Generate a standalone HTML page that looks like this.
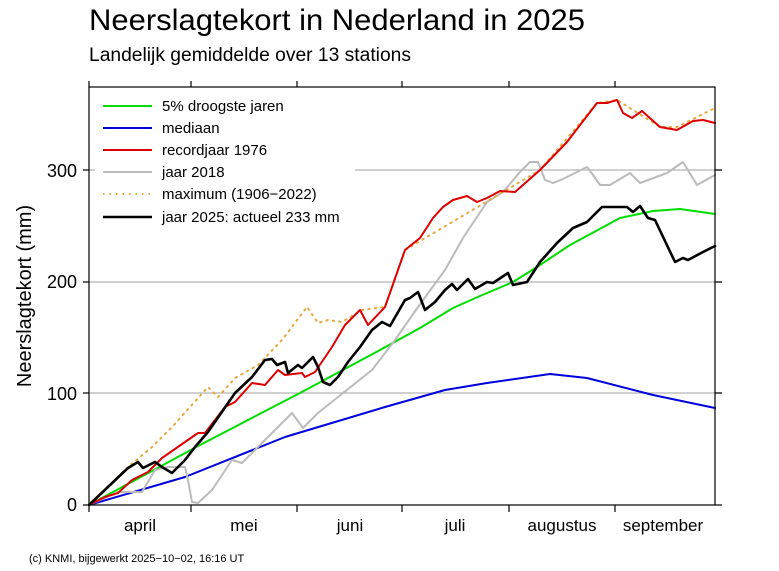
<!DOCTYPE html>
<html><head><meta charset="utf-8"><style>
html,body{margin:0;padding:0;background:#fff}
svg{display:block;font-family:"Liberation Sans",Arial,sans-serif}
</style></head><body>
<svg width="779" height="571" viewBox="0 0 779 571" xmlns="http://www.w3.org/2000/svg">
<text x="89" y="30" font-size="30" textLength="496" lengthAdjust="spacingAndGlyphs">Neerslagtekort in Nederland in 2025</text>
<text x="89" y="61" font-size="19" textLength="322" lengthAdjust="spacingAndGlyphs">Landelijk gemiddelde over 13 stations</text>
<!-- grid -->
<g stroke="#b4b4b4" stroke-width="1.2">
<line x1="89" y1="393" x2="722" y2="393"/>
<line x1="89" y1="282" x2="722" y2="282"/>
<line x1="89" y1="170" x2="722" y2="170"/>
</g>
<!-- legend bg -->
<rect x="95" y="90" width="260" height="145" fill="#fff"/>
<!-- series -->
<g fill="none" stroke-linejoin="round" stroke-linecap="round">
<polyline stroke="#0000dd" stroke-width="2" points="89,505 185,477 285,437 385,407 445,390 487,383 550,374 587,378 653,395 715,408"/>
<polyline stroke="#00dd00" stroke-width="2" points="89,505 200,445 300,393 380,350 420,328 453,308 480,296 513,282 537,267 570,245 620,218 653,211 680,209 715,214"/>
<polyline stroke="#bbbbbb" stroke-width="2" points="89,505 118,492 142,492 155,470 168,467 185,467 188,480 192,502 198,503 212,490 232,460 242,463 262,443 292,413 303,428 318,413 338,397 372,370 395,340 418,307 445,270 463,238 487,202 503,192 520,172 530,162 538,162 545,180 553,183 563,179 587,167 593,175 600,185 610,185 630,173 640,183 667,173 683,162 697,185 715,175"/>
<polyline stroke="#e8a840" stroke-width="2" stroke-dasharray="1.5,5" points="89,505 128,467 152,447 172,427 208,387 218,397 235,378 258,365 282,340 307,307 318,323 328,320 342,322 362,310 385,307 405,250 540,170 597,103 617,100 660,127 677,127 715,108"/>
<polyline stroke="#dd0000" stroke-width="2" points="89,505 105,497 118,493 132,480 148,472 162,458 185,442 198,433 205,433 225,407 235,402 252,383 265,385 278,370 285,375 302,373 305,377 315,372 332,347 345,325 360,310 368,325 385,307 405,250 420,238 433,218 443,207 453,200 467,196 477,202 487,198 500,191 515,192 540,170 567,142 597,103 607,103 617,100 623,113 632,118 642,111 660,127 677,130 693,121 703,120 715,123"/>
<polyline stroke="#000" stroke-width="2.6" points="89,505 128,468 138,462 143,468 155,462 162,467 172,473 185,460 195,447 208,432 235,393 252,377 265,360 272,359 277,365 285,362 288,373 298,365 302,368 313,357 318,367 323,382 330,385 338,377 348,362 360,347 372,330 382,322 390,326 405,300 410,298 418,292 425,310 435,302 445,290 452,284 457,290 468,279 475,289 487,282 493,283 508,273 513,285 527,282 540,262 557,243 573,228 587,222 602,207 627,207 633,212 640,206 648,218 655,220 675,262 683,258 688,260 703,252 715,246"/>
</g>
<!-- frame -->
<g stroke="#000" stroke-width="1.2" fill="none">
<rect x="89" y="87" width="626" height="418"/>
<line x1="89" y1="505" x2="89" y2="512"/><line x1="191" y1="505" x2="191" y2="512"/><line x1="297" y1="505" x2="297" y2="512"/><line x1="402" y1="505" x2="402" y2="512"/><line x1="509" y1="505" x2="509" y2="512"/><line x1="615" y1="505" x2="615" y2="512"/>
<line x1="89" y1="87" x2="89" y2="81"/><line x1="191" y1="87" x2="191" y2="81"/><line x1="297" y1="87" x2="297" y2="81"/><line x1="402" y1="87" x2="402" y2="81"/><line x1="509" y1="87" x2="509" y2="81"/><line x1="615" y1="87" x2="615" y2="81"/>
<line x1="83" y1="505" x2="89" y2="505"/><line x1="83" y1="393" x2="89" y2="393"/><line x1="83" y1="282" x2="89" y2="282"/><line x1="83" y1="170" x2="89" y2="170"/>
<line x1="715" y1="505" x2="722" y2="505"/><line x1="715" y1="393" x2="722" y2="393"/><line x1="715" y1="282" x2="722" y2="282"/><line x1="715" y1="170" x2="722" y2="170"/>
</g>
<!-- y labels -->
<g font-size="18" text-anchor="end">
<text x="77" y="511">0</text><text x="77" y="400">100</text><text x="77" y="288">200</text><text x="77" y="177">300</text>
</g>
<text transform="translate(31,296) rotate(-90)" font-size="20" text-anchor="middle">Neerslagtekort (mm)</text>
<g font-size="17" text-anchor="middle">
<text x="140" y="531">april</text><text x="244" y="531">mei</text><text x="350" y="531">juni</text><text x="455" y="531">juli</text><text x="562" y="531">augustus</text><text x="663" y="531">september</text>
</g>
<text x="29" y="562" font-size="11">(c) KNMI, bijgewerkt 2025−10−02, 16:16 UT</text>
<!-- legend -->
<g stroke-width="2">
<line x1="103" y1="106" x2="152" y2="106" stroke="#00dd00"/>
<line x1="103" y1="128" x2="152" y2="128" stroke="#0000dd"/>
<line x1="103" y1="150" x2="152" y2="150" stroke="#dd0000"/>
<line x1="103" y1="172" x2="152" y2="172" stroke="#bbbbbb"/>
<line x1="103" y1="194" x2="152" y2="194" stroke="#e8a840" stroke-dasharray="1.5,5"/>
<line x1="103" y1="217" x2="152" y2="217" stroke="#000" stroke-width="2.6"/>
</g>
<g font-size="15">
<text x="162" y="111">5% droogste jaren</text>
<text x="162" y="133">mediaan</text>
<text x="162" y="155">recordjaar 1976</text>
<text x="162" y="177">jaar 2018</text>
<text x="162" y="199">maximum (1906−2022)</text>
<text x="162" y="222">jaar 2025: actueel 233 mm</text>
</g>
</svg>
</body></html>
